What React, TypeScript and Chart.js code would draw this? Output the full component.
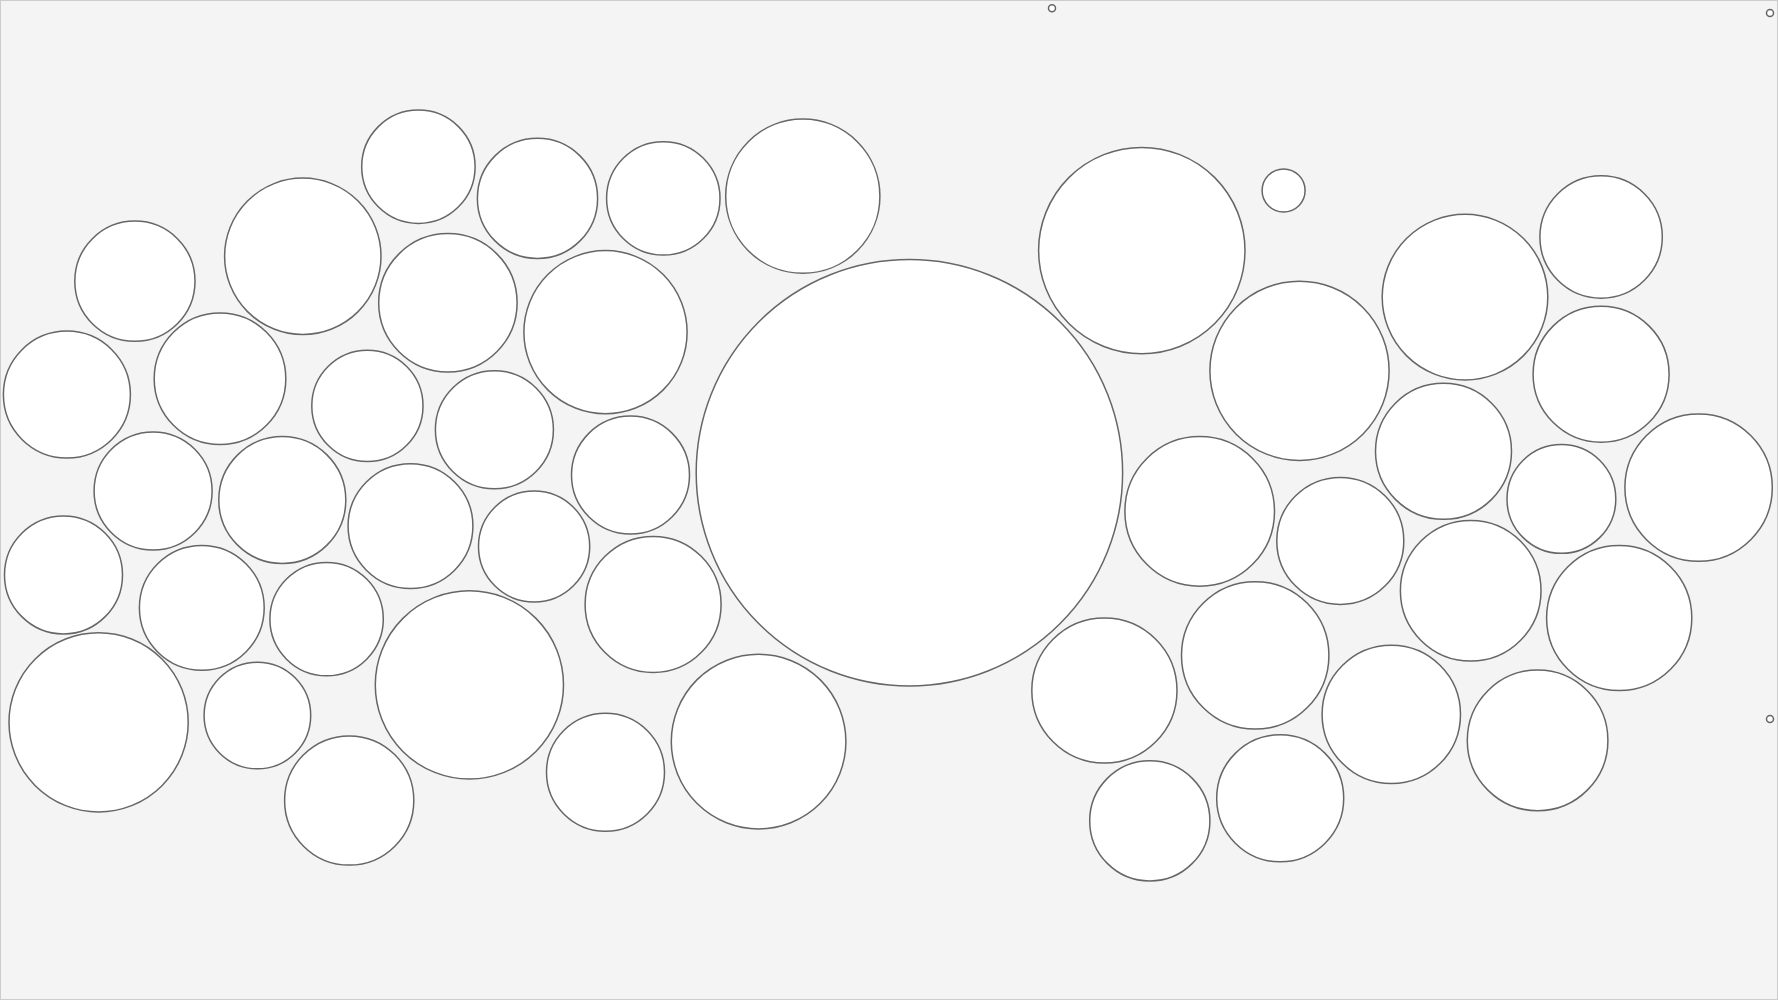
import React, { useEffect, useRef } from "react";
import { Chart, registerables } from "chart.js";

Chart.register(...registerables);

// Packed bubbles: centre x, centre y (px-like units of a 1778x1000 field), radius
const bubbleX = [
  418.4, 537.5, 663.3, 802.8, 134.9, 302.8, 447.9, 605.5, 66.9, 220.0,
  367.4, 494.4, 630.5, 153.1, 282.3, 410.5, 534.1, 63.5, 201.8, 326.6,
  469.4, 653.1, 98.6, 257.4, 349.2, 605.5, 758.6, 909.4, 1141.8, 1283.6,
  1601.1, 1465.0, 1299.5, 1601.1, 1443.5, 1199.7, 1340.3, 1561.4, 1698.6, 1470.7,
  1619.2, 1104.4, 1255.2, 1391.3, 1537.6, 1149.8, 1280.2, 1052, 1770, 1770,
];
const bubbleY = [
  166.7, 198.4, 198.4, 196.2, 281.2, 256.3, 302.8, 332.2, 394.6, 378.7,
  405.9, 429.8, 475.1, 491.0, 500.0, 526.1, 546.5, 574.9, 607.8, 619.1,
  684.9, 604.4, 722.3, 715.5, 800.5, 772.2, 741.6, 472.8, 250.6, 190.5,
  237.0, 297.1, 370.8, 374.2, 451.3, 511.4, 540.9, 498.9, 487.6, 590.8,
  618.0, 690.5, 655.4, 714.4, 740.4, 820.9, 798.3, 8.3, 13, 719,
];
const bubbleR = [
  56.7, 60.1, 56.7, 77.1, 60.1, 78.2, 69.2, 81.6, 63.5, 65.8,
  55.6, 59.0, 59.0, 59.0, 63.5, 62.4, 55.6, 59.0, 62.4, 56.7,
  94.1, 68.0, 89.6, 53.3, 64.6, 59.0, 87.3, 213.2, 103.2, 21.5,
  61.2, 82.8, 89.6, 68.0, 68.0, 74.8, 63.5, 54.4, 73.7, 70.3,
  72.6, 72.6, 73.7, 69.2, 70.3, 60.1, 63.5, 3.5, 3.5, 3.5,
];

export default function App() {
  const ref = useRef<HTMLCanvasElement | null>(null);

  useEffect(() => {
    document.body.style.margin = "0";
    const canvas = ref.current;
    if (!canvas) return;
    const data = bubbleX.map((x, i) => ({ x, y: bubbleY[i], r: bubbleR[i] }));
    const chart = new Chart(canvas, {
      type: "bubble",
      data: {
        datasets: [
          {
            data,
            backgroundColor: "#ffffff",
            borderColor: "#666666",
            borderWidth: 1.5,
            hoverRadius: 0,
            clip: false,
          },
        ],
      },
      options: {
        animation: false,
        responsive: true,
        maintainAspectRatio: false,
        events: [],
        layout: { padding: 0, autoPadding: false },
        plugins: { legend: { display: false }, tooltip: { enabled: false } },
        scales: {
          x: { type: "linear", min: 1, max: 1777, display: false },
          y: { type: "linear", min: 1, max: 999, reverse: true, display: false },
        },
      },
    });
    return () => chart.destroy();
  }, []);

  return (
    <div
      style={{
        width: 1778,
        height: 1000,
        boxSizing: "border-box",
        border: "1px solid #cccccc",
        background: "#f4f4f4",
        position: "relative",
      }}
    >
      <div style={{ position: "absolute", left: 0, top: 0, width: 1776, height: 998 }}>
        <canvas ref={ref} />
      </div>
    </div>
  );
}
